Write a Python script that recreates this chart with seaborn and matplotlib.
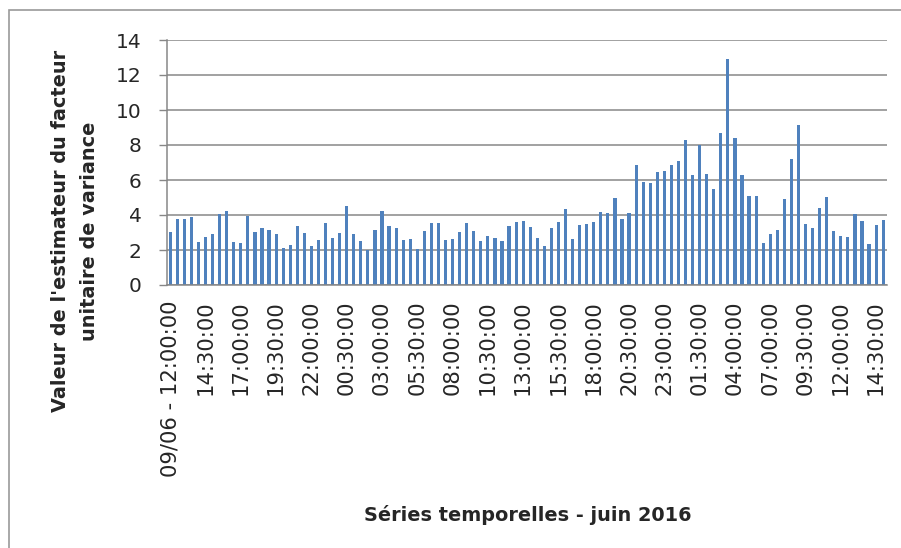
import numpy as np
import pandas as pd
import seaborn as sns
import matplotlib.pyplot as plt
from matplotlib.patches import Rectangle

# valeurs (une barre par demi-heure)
values = [
    3.04, 3.80, 3.79, 3.90, 2.45, 2.77, 2.91, 4.05, 4.23, 2.43,
    2.41, 3.96, 3.04, 3.25, 3.14, 2.93, 2.12, 2.26, 3.35, 2.98,
    2.24, 2.60, 3.54, 2.68, 2.98, 4.53, 2.89, 2.54, 1.99, 3.14,
    4.23, 3.40, 3.23, 2.58, 2.64, 2.05, 3.08, 3.52, 3.56, 2.60,
    2.64, 3.02, 3.52, 3.06, 2.54, 2.79, 2.68, 2.54, 3.38, 3.61,
    3.63, 3.33, 2.68, 2.22, 3.25, 3.61, 4.32, 2.64, 3.44, 3.50,
    3.61, 4.19, 4.13, 4.97, 3.80, 4.11, 6.88, 5.91, 5.85, 6.48,
    6.50, 6.83, 7.06, 8.26, 6.31, 8.01, 6.37, 5.49, 8.68, 12.94,
    8.39, 6.27, 5.09, 5.09, 2.41, 2.94, 3.15, 4.89, 7.21, 9.12,
    3.50, 3.27, 4.38, 5.03, 3.10, 2.81, 2.77, 4.03, 3.65, 2.37,
    3.42, 3.73,
]

# une étiquette toutes les 5 catégories
tick_labels = [
    "09/06 - 12:00:00", "14:30:00", "17:00:00", "19:30:00", "22:00:00",
    "00:30:00", "03:00:00", "05:30:00", "08:00:00", "10:30:00",
    "13:00:00", "15:30:00", "18:00:00", "20:30:00", "23:00:00",
    "01:30:00", "04:00:00", "07:00:00", "09:30:00", "12:00:00",
    "14:30:00",
]
tick_step = 5

x_title = "Séries temporelles - juin 2016"
y_title = "Valeur de l'estimateur du facteur\nunitaire de variance"

df = pd.DataFrame({"slot": np.arange(len(values)), "valeur": values})

sns.set_style("white")
plt.rcParams["font.family"] = ["DejaVu Sans"]
grid_color = "#878787"

fig = plt.figure(figsize=(9.01, 5.48), dpi=100)
ax = fig.add_axes([166.7 / 901, 1 - 285 / 548, 720 / 901, 245 / 548])

sns.barplot(x="slot", y="valeur", data=df, color="#4F81BD", saturation=1,
            width=0.45, linewidth=0, edgecolor="none", ax=ax)
for p in ax.patches:
    p.set_zorder(3)

ax.set_xlim(-0.5, len(values) - 0.5)
ax.set_ylim(0, 14)
ax.set_yticks(np.arange(0, 15, 2))
ax.set_yticklabels([str(v) for v in range(0, 15, 2)])
ax.set_axisbelow(True)
ax.yaxis.grid(True, color=grid_color, linewidth=1.1)

ax.set_xticks(np.arange(0, len(values), tick_step))
ax.set_xticklabels(tick_labels, rotation=90, va="top", ha="center")
ax.set_xticks(np.arange(-0.5, len(values), 1), minor=True)
ax.tick_params(axis="x", which="major", length=0, pad=11, labelsize=15.2)
ax.tick_params(axis="x", which="minor", length=5, width=1, color=grid_color, direction="out")
ax.tick_params(axis="y", which="major", length=6, width=1, color=grid_color,
               direction="out", pad=12, labelsize=14.5, left=True)

sns.despine(ax=ax, top=True, right=True)
for side in ["left", "bottom"]:
    ax.spines[side].set_color(grid_color)
    ax.spines[side].set_linewidth(1.1)
    ax.spines[side].set_zorder(4)

ax.set_xlabel("")
ax.set_ylabel("")
fig.text(528 / 901, 1 - 515 / 548, x_title, ha="center", va="center",
         fontsize=13.9, fontweight="bold")
fig.text(75 / 901, 1 - 231 / 548, y_title, ha="center", va="center",
         rotation=90, multialignment="center", linespacing=1.65,
         fontsize=13.9, fontweight="bold")

# cadre du graphique
fig.patches.append(Rectangle((9 / 901, -0.02), 1.0, 1 - 10 / 548 + 0.02,
                             transform=fig.transFigure, fill=False,
                             edgecolor="#9A9A9A", linewidth=1.2))

fig.savefig("out.png", dpi=100)
